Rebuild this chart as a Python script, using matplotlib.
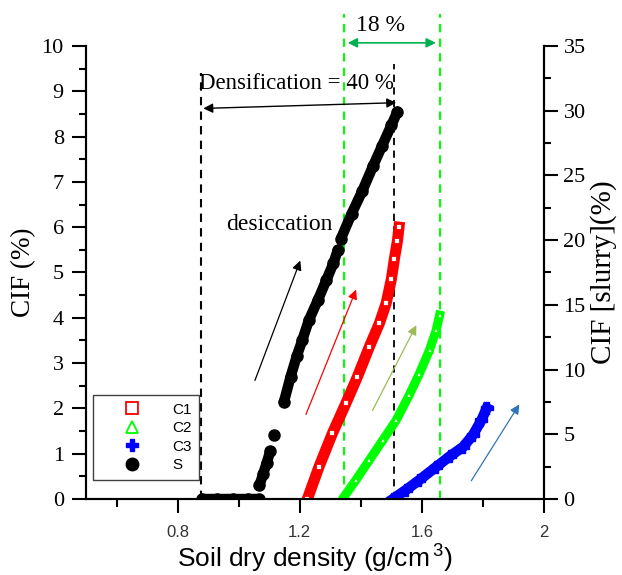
import numpy as np
import matplotlib.pyplot as plt
from matplotlib.lines import Line2D

plt.rcParams['font.family'] = ['Liberation Serif', 'DejaVu Serif']
plt.rcParams['mathtext.default'] = 'regular'

nan = np.nan
# S : soil (black circles), NaN marks gaps in the trace
s_x = [0.88, 0.93, 0.98, 1.03, 1.065, nan, 1.068, 1.08, 1.092, 1.103, nan, 1.116, nan,
       1.148, 1.17, 1.19, 1.208, 1.23, 1.26, 1.287, 1.31, 1.325, nan,
       1.335, 1.37, 1.405, 1.44, 1.47, 1.50, 1.52]
s_y = [0, 0, 0, 0, 0, nan, 0.3, 0.55, 0.8, 1.05, nan, 1.41, nan,
       2.14, 2.7, 3.15, 3.5, 3.95, 4.4, 4.83, 5.2, 5.5, nan,
       5.75, 6.3, 6.8, 7.35, 7.8, 8.25, 8.55]
# C1 (red squares)
c1_x = [1.225, 1.263, 1.307, 1.351, 1.389, 1.428, 1.461, 1.483, 1.50, 1.51, 1.52, 1.525]
c1_y = [0.0, 0.71, 1.45, 2.11, 2.70, 3.36, 3.88, 4.32, 4.85, 5.3, 5.7, 6.0]
# C2 (green triangles)
c2_x = [1.340, 1.384, 1.428, 1.472, 1.516, 1.559, 1.592, 1.625, 1.647, 1.658]
c2_y = [0.0, 0.42, 0.86, 1.30, 1.74, 2.30, 2.77, 3.29, 3.73, 4.06]
# C3 (blue crosses)
c3_x = [1.505, 1.548, 1.592, 1.647, 1.691, 1.735, 1.767, 1.795, 1.812]
c3_y = [0.0, 0.20, 0.42, 0.71, 0.94, 1.15, 1.41, 1.74, 2.0]

x_ticks = [0.8, 1.2, 1.6, 2.0]
x_tick_labels = ['0.8', '1.2', '1.6', '2']

fig = plt.figure(figsize=(6.22, 5.75), dpi=100)
ax = fig.add_axes([0.1383, 0.1322, 0.7363, 0.7878])
ax2 = ax.twinx()

# dashed guide lines
ax.plot([0.875, 0.875], [0, 9.4], ls=(0, (4, 3)), color='black', lw=1.5, clip_on=False)
ax.plot([1.51, 1.51], [0, 9.6], ls=(0, (4, 3)), color='black', lw=1.3, clip_on=False)
for gx in [1.345, 1.658]:
    ax.plot([gx, gx], [0, 10.7], ls=(0, (4, 3)), color='#00ff00', lw=1.5, clip_on=False)

# data
ax.plot(s_x, s_y, color='black', lw=7.5, marker='o', ms=8, solid_capstyle='round', zorder=5)
ax.plot(c1_x, c1_y, color='red', lw=8, zorder=4)
ax.plot(c1_x, c1_y, ls='none', marker='s', ms=5, mfc='white', mec='red', mew=1.3, zorder=4)
ax.plot(c2_x, c2_y, color='#00ff00', lw=6.5, zorder=4)
ax.plot(c2_x, c2_y, ls='none', marker='^', ms=5, mfc='white', mec='#00ff00', mew=1.3, zorder=4)
ax.plot(c3_x, c3_y, color='blue', lw=7.5, marker='P', ms=9, zorder=4)

# trend arrows
arrows = [((1.05, 2.56), (1.205, 5.32), 'black'),
          ((1.217, 1.81), (1.388, 4.68), 'red'),
          ((1.434, 1.90), (1.586, 3.89), '#9bbb59'),
          ((1.757, 0.35), (1.924, 2.14), '#2e75b6')]
for start, end, col in arrows:
    ax.annotate('', xy=end, xytext=start,
                arrowprops=dict(arrowstyle='-|>', color=col, lw=0.9, mutation_scale=14))

# densification arrow
ax.annotate('', xy=(1.525, 8.75), xytext=(0.875, 8.62),
            arrowprops=dict(arrowstyle='<|-|>', color='black', lw=1, mutation_scale=14),
            annotation_clip=False)
ax.text(1.19, 9.18, 'Densification = 40 %', ha='center', va='center', fontsize=16.5)
# 18 % arrow
ax.annotate('', xy=(1.655, 10.07), xytext=(1.348, 10.07),
            arrowprops=dict(arrowstyle='<|-|>', color='#00b050', lw=1.2, mutation_scale=14),
            annotation_clip=False)
ax.text(1.464, 10.45, '18 %', ha='center', va='center', fontsize=17)
ax.text(1.132, 6.05, 'desiccation', ha='center', va='center', fontsize=17)

# axes
ax.set_xlim(0.5, 2.0)
ax.set_ylim(0, 10)
ax2.set_ylim(0, 35)
ax.set_xticks(x_ticks)
ax.set_xticklabels(x_tick_labels, family='Liberation Sans', fontsize=12, color='#333333')
ax.set_xticks([0.6, 1.0, 1.4, 1.8], minor=True)
ax.set_yticks(range(0, 11))
ax.set_yticks(np.arange(0.5, 10, 1), minor=True)
ax2.set_yticks(range(0, 36, 5))
ax2.set_yticks(np.arange(2.5, 35, 5), minor=True)
ax.tick_params(axis='x', which='major', length=10, width=1.5, pad=9)
ax.tick_params(axis='x', which='minor', length=6, width=1.5)
ax.tick_params(axis='y', which='major', length=10, width=1.5, pad=6, labelsize=16)
ax.tick_params(axis='y', which='minor', length=5, width=1.5)
ax2.tick_params(axis='y', which='major', length=10, width=1.5, pad=4, labelsize=16)
ax2.tick_params(axis='y', which='minor', length=5, width=1.5)
for a in (ax, ax2):
    a.spines['top'].set_visible(False)
    for sp in a.spines.values():
        sp.set_linewidth(1.5)

ax.set_xlabel('Soil dry density (g/cm$^{\\,3}$)', family='Liberation Sans', fontsize=19, labelpad=2)
ax.set_ylabel('CIF (%)', fontsize=19.5, labelpad=4)
ax2.set_ylabel('CIF [slurry](%)', fontsize=21, labelpad=3)

handles = [Line2D([], [], ls='none', marker='s', ms=8, mfc='none', mec='red', mew=1.3),
           Line2D([], [], ls='none', marker='^', ms=8, mfc='none', mec='#00ff00', mew=1.3),
           Line2D([], [], ls='none', marker='P', ms=9, color='blue'),
           Line2D([], [], ls='none', marker='o', ms=9, color='black')]
leg = ax.legend(handles, ['C1', 'C2', 'C3', 'S'], loc='lower left',
                bbox_to_anchor=(0.015, 0.042), borderaxespad=0, fancybox=False,
                edgecolor='#404040', framealpha=1, handlelength=4.1, handletextpad=0.6,
                borderpad=0.5, labelspacing=0.3, prop={'family': 'Liberation Sans', 'size': 11})
leg.get_frame().set_linewidth(1)

fig.savefig('out.png', dpi=100)
